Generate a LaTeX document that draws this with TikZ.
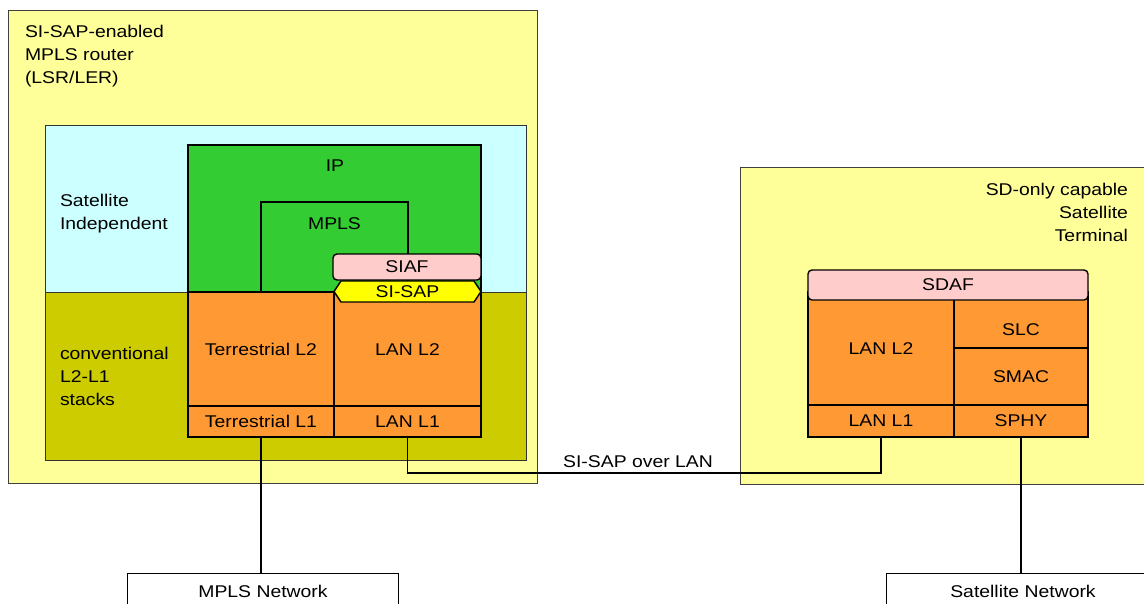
\documentclass[tikz,border=0pt]{standalone}
\usepackage{fontspec}
\setmainfont{Liberation Sans}[FakeStretch=1.14]
\definecolor{lightyel}{HTML}{FFFF99}
\definecolor{lightcyan}{HTML}{CCFFFF}
\definecolor{olive}{HTML}{CCCC00}
\definecolor{ipgreen}{HTML}{33CC33}
\definecolor{stackorange}{HTML}{FF9933}
\definecolor{afpink}{HTML}{FFCCCC}
\definecolor{sapyellow}{HTML}{FFFF00}
\begin{document}
\begin{tikzpicture}[x=1pt,y=-1pt,
  every node/.style={inner sep=0pt, outer sep=0pt},
  font=\fontsize{17}{23}\selectfont,
  sz/.style 2 args={minimum width=#1pt, minimum height=#2pt, anchor=north west, rectangle},
  outerbox/.style={draw=black!75, line width=0.8pt, fill=lightyel},
  zonebox/.style={draw=black!80, line width=0.9pt},
  layer/.style={draw=black, line width=1.4pt},
  netbox/.style={draw=black, line width=1pt, fill=white},
  conn/.style={draw=black, line width=1.3pt},
  txt/.style={align=left, anchor=north west}]
\useasboundingbox (0,0) rectangle (1144,603);
\clip (0,0) rectangle (1144,603);
% outer boxes
\node[outerbox, sz={529}{473}] (router) at (8,10) {};
\node[outerbox, sz={420}{317}] (terminal) at (740,167) {};
% zones
\node[zonebox, fill=lightcyan, sz={481}{335}] (sizone) at (45,125) {};
\node[zonebox, fill=olive, sz={481}{168}] (convzone) at (45,292) {};
% left stack
\node[layer, fill=ipgreen, sz={293}{147}] (ip) at (188,145) {};
\node[layer, fill=ipgreen, sz={147}{90}] (mpls) at (261,202) {};
\node[layer, fill=stackorange, sz={146}{114}] (tl2) at (188,292) {Terrestrial L2};
\node[layer, fill=stackorange, sz={147}{114}] (ll2) at (334,292) {};
\node[layer, fill=stackorange, sz={146}{31}] (tl1) at (188,406) {Terrestrial L1};
\node[layer, fill=stackorange, sz={147}{31}] (ll1) at (334,406) {LAN L1};
\node (ll2label) at (407.5,350) {LAN L2};
\node[layer, fill=afpink, rounded corners=4pt, sz={148}{26}] (siaf) at (333,254) {SIAF};
\draw[layer, fill=sapyellow] (334,291.5) -- (341,281) -- (474,281) -- (481,291.5) -- (474,302) -- (341,302) -- cycle;
\node (sisap) at (407.5,291.5) {SI-SAP};
\node (iplabel) at (335,166) {IP};
\node (mplslabel) at (334.5,224) {MPLS};
% right stack
\node[layer, fill=stackorange, sz={146}{113}] (rll2) at (808,292) {LAN L2};
\node[layer, fill=stackorange, sz={134}{56}] (slc) at (954,292) {};
\node[layer, fill=stackorange, sz={134}{57}] (smac) at (954,348) {SMAC};
\node[layer, fill=stackorange, sz={146}{32}] (rll1) at (808,405) {LAN L1};
\node[layer, fill=stackorange, sz={134}{32}] (sphy) at (954,405) {SPHY};
\node[layer, fill=afpink, rounded corners=4pt, sz={280}{30}] (sdaf) at (808,270) {SDAF};
\node (slclabel) at (1021,330) {SLC};
% texts
\node[txt] (routertext) at (25,25) {SI-SAP-enabled\\MPLS router\\(LSR/LER)};
\node[txt] (sitext) at (60,194) {Satellite\\Independent};
\node[txt] (convtext) at (60,347) {conventional\\L2-L1\\stacks};
\node[align=right, anchor=north east] (termtext) at (1128,183) {SD-only capable\\Satellite\\Terminal};
% networks
\node[netbox, sz={271}{45}] (mplsnet) at (127,573) {};
\node (mplsnetlabel) at (263,591) {MPLS Network};
\node[netbox, sz={274}{45}] (satnet) at (886,573) {};
\node (satnetlabel) at (1023,591) {Satellite Network};
% connectors
\coordinate (lanlink) at (407.5,473);
\draw[conn] (tl1.south) -- (tl1.south |- mplsnet.north);
\draw[conn] (ll1.south) -- (lanlink) -| (rll1.south);
\draw[conn] (sphy.south) -- (sphy.south |- satnet.north);
\node (lanlabel) at (638,462) {SI-SAP over LAN};
\end{tikzpicture}
\end{document}
